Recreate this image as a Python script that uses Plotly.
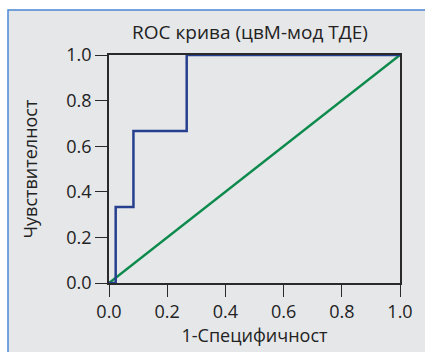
import plotly.graph_objects as go

# ROC step curve (1-specificity vs. sensitivity) and the chance diagonal
fpr = [0.0, 0.023, 0.023, 0.084, 0.084, 0.267, 0.267, 1.0]
tpr = [0.0, 0.0, 0.333, 0.333, 0.667, 0.667, 1.0, 1.0]
diag_x = [0.0, 1.0]
diag_y = [0.0, 1.0]
tick_vals = [0.0, 0.2, 0.4, 0.6, 0.8, 1.0]
tick_text = ["0.0", "0.2", "0.4", "0.6", "0.8", "1.0"]

BG = "#e6e7e9"
FONT = "Open Sans"

fig = go.Figure()
fig.add_trace(go.Scatter(x=diag_x, y=diag_y, mode="lines",
                         line=dict(color="#0b8a4c", width=2.5),
                         cliponaxis=False, showlegend=False))
fig.add_trace(go.Scatter(x=fpr, y=tpr, mode="lines",
                         line=dict(color="#26408f", width=2.5),
                         cliponaxis=False, showlegend=False))

axis_common = dict(range=[0, 1], tickvals=tick_vals, ticktext=tick_text,
                   showgrid=False, zeroline=False, showline=True,
                   linecolor="#2a2a2a", linewidth=1.5, mirror=True,
                   ticks="outside", ticklen=12, tickwidth=1.2,
                   tickcolor="#2a2a2a", automargin=False,
                   tickfont=dict(family=FONT, size=18, color="#222"))

fig.update_layout(
    width=425, height=352,
    paper_bgcolor="white", plot_bgcolor=BG,
    margin=dict(l=109, r=25, t=55, b=69),
    title=dict(text="ROC крива (цвМ-мод ТДЕ)", x=250/425, xanchor="center",
               y=1 - 32/352, yanchor="middle",
               font=dict(family=FONT, size=19, color="#222")),
    xaxis=dict(axis_common,
               title=dict(text="1-Специфичност", standoff=7,
                          font=dict(family=FONT, size=18, color="#222"))),
    yaxis=dict(axis_common,
               title=dict(text="Чувствителност", standoff=24,
                          font=dict(family=FONT, size=18, color="#222"))),
    shapes=[dict(type="rect", xref="paper", yref="paper",
                 x0=-101/291, x1=1.2, y0=-0.6, y1=1 + 45/228,
                 line=dict(color="#4a86d6", width=1.5),
                 fillcolor=BG, layer="below")],
)

fig.write_html("out.html")
